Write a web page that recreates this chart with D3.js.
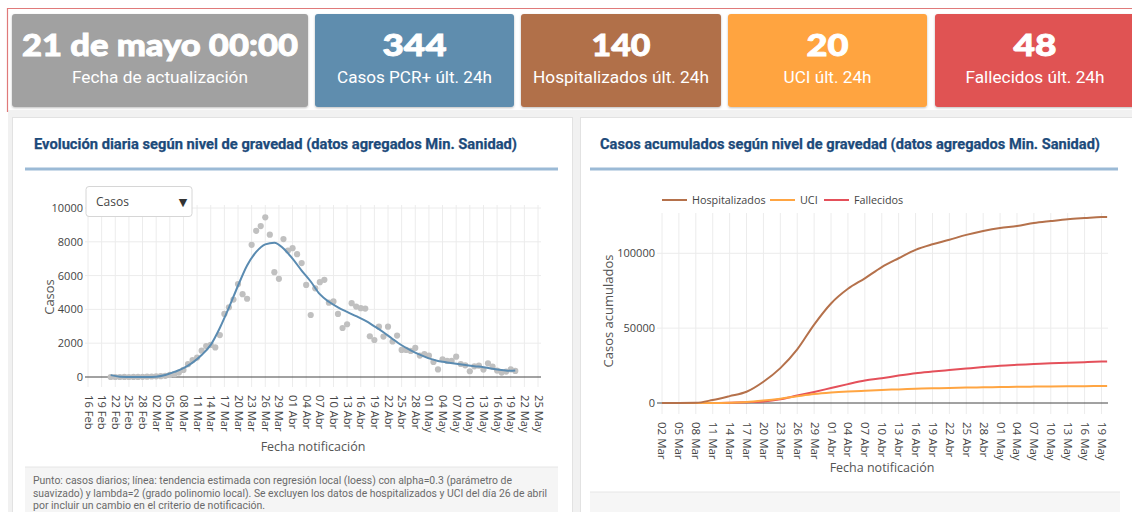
<!DOCTYPE html>
<html><head><meta charset="utf-8">
<script src="https://cdn.jsdelivr.net/npm/d3@7"></script>
<style>
html,body{margin:0;padding:0;background:#fff;overflow:hidden;}
svg{display:block;}
</style></head>
<body>
<svg id="c" width="1132" height="512"></svg>
<script>
// ---------- DATA ----------
const cardValues = ["21 de mayo 00:00", "344", "140", "20", "48"];
const cardLabels = ["Fecha de actualización", "Casos PCR+ últ. 24h", "Hospitalizados últ. 24h", "UCI últ. 24h", "Fallecidos últ. 24h"];
const cardColors = ["#a1a1a1", "#5f8dae", "#b16f49", "#ffa440", "#e05252"];

const leftTitle = "Evolución diaria según nivel de gravedad (datos agregados Min. Sanidad)";
const rightTitle = "Casos acumulados según nivel de gravedad (datos agregados Min. Sanidad)";

// daily cases, consecutive days starting 21 Feb
const dailyStart = "21 Feb";
const dailyCases = [
  0, 0, 0, 2, 0, 5, 3, 10, 20, 30,
  40, 50, 70, 120, 170, 260, 420, 760, 1000, 1150,
  1560, 1830, 1900, 1750, 2480, 3730, 4120, 4580, 5500, 4900,
  4630, 7820, 8650, 8930, 9450, 8420, 6200, 5810, 8160, 7480,
  7620, 7270, 6740, 5450, 3670, 5250, 5610, 5750, 4400, 4470,
  3730, 2900, 3120, 4370, 4170, 4070, 4050, 2410, 2190, 2980,
  2390, 2980, 2100, 2450, 1600, 1600, 1540, 1720, 1270, 1360,
  1260, 890, 450, 1050, 950, 950, 1200, 770, 690, 340,
  630, 670, 440, 810, 610, 380, 260, 320, 450, 360
];
// loess trend
const trendDates = ["21 Feb","23 Feb","26 Feb","29 Feb","02 Mar","04 Mar","06 Mar","08 Mar","10 Mar","12 Mar","14 Mar","16 Mar","18 Mar","20 Mar","22 Mar","24 Mar","26 Mar","28 Mar","30 Mar","01 Abr","03 Abr","05 Abr","07 Abr","09 Abr","11 Abr","13 Abr","15 Abr","17 Abr","19 Abr","21 Abr","23 Abr","25 Abr","27 Abr","29 Abr","01 May","03 May","05 May","07 May","09 May","11 May","13 May","15 May","17 May","19 May","20 May"];
const trendValues = [110, 20, 0, 0, 20, 120, 300, 520, 850, 1300, 1900, 2900, 4100, 5400, 6600, 7400, 7850, 7950, 7600, 7000, 6300, 5650, 4900, 4450, 4120, 3850, 3600, 3330, 3000, 2650, 2250, 1880, 1580, 1320, 1100, 950, 860, 780, 710, 640, 580, 490, 420, 370, 380];

const leftTickLabels = ["16 Feb","19 Feb","22 Feb","25 Feb","28 Feb","02 Mar","05 Mar","08 Mar","11 Mar","14 Mar","17 Mar","20 Mar","23 Mar","26 Mar","29 Mar","01 Abr","04 Abr","07 Abr","10 Abr","13 Abr","16 Abr","19 Abr","22 Abr","25 Abr","28 Abr","01 May","04 May","07 May","10 May","13 May","16 May","19 May","22 May","25 May"];
const leftYTicks = [0, 2000, 4000, 6000, 8000, 10000];

// cumulative series
const cumDates = ["02 Mar","05 Mar","08 Mar","11 Mar","14 Mar","17 Mar","20 Mar","23 Mar","26 Mar","29 Mar","01 Abr","04 Abr","07 Abr","10 Abr","13 Abr","16 Abr","19 Abr","22 Abr","25 Abr","28 Abr","01 May","04 May","07 May","10 May","13 May","16 May","19 May","20 May"];
const hospitalizados = [0, 0, 100, 2000, 4600, 7500, 14200, 23300, 35800, 52400, 66500, 76300, 83300, 90800, 96700, 102300, 106000, 109000, 112300, 114900, 116900, 118200, 120200, 121500, 122700, 123500, 124200, 124200];
const uci = [0, 0, 0, 30, 200, 600, 1600, 2900, 4500, 6000, 7000, 7700, 8200, 8700, 9100, 9500, 9800, 10100, 10300, 10500, 10650, 10800, 10950, 11050, 11150, 11250, 11300, 11300];
const fallecidos = [0, 0, 0, 30, 150, 500, 1000, 2500, 5000, 7400, 10000, 12600, 15000, 16600, 18300, 19900, 21000, 22000, 23000, 24000, 24900, 25500, 26000, 26500, 26900, 27300, 27700, 27800];
const seriesNames = ["Hospitalizados", "UCI", "Fallecidos"];
const seriesColors = ["#b5714b", "#ffa542", "#e4505a"];
const rightTickLabels = ["02 Mar","05 Mar","08 Mar","11 Mar","14 Mar","17 Mar","20 Mar","23 Mar","26 Mar","29 Mar","01 Abr","04 Abr","07 Abr","10 Abr","13 Abr","16 Abr","19 Abr","22 Abr","25 Abr","28 Abr","01 May","04 May","07 May","10 May","13 May","16 May","19 May"];
const rightYTicks = [0, 50000, 100000];

const footnote = [
  "Punto: casos diarios; línea: tendencia estimada con regresión local (loess) con alpha=0.3 (parámetro de",
  "suavizado) y lambda=2 (grado polinomio local). Se excluyen los datos de hospitalizados y UCI del día 26 de abril",
  "por incluir un cambio en el criterio de notificación."
];

// ---------- HELPERS ----------
const MONTHS = {Feb: 1, Mar: 2, Abr: 3, May: 4};
const parseEs = s => { const [d, m] = s.split(" "); return new Date(Date.UTC(2020, MONTHS[m], +d)); };
const DAY = 86400000;

const svg = d3.select("#c");
const FONT = "'Open Sans', 'DejaVu Sans', sans-serif";
const defs = svg.append("defs");
const sh = defs.append("filter").attr("id", "sh").attr("x", "-5%").attr("y", "-5%").attr("width", "110%").attr("height", "120%");
sh.append("feDropShadow").attr("dx", 0).attr("dy", 1).attr("stdDeviation", 1.2).attr("flood-color", "#000").attr("flood-opacity", 0.25);

// background
svg.append("rect").attr("x", 0).attr("y", 0).attr("width", 1132).attr("height", 512).attr("fill", "#fff");
svg.append("rect").attr("x", 8).attr("y", 110).attr("width", 1124).attr("height", 402).attr("fill", "#f1f1f1");
// red frame
svg.append("path").attr("d", "M7.5,112 V8.5 H1132").attr("fill", "none").attr("stroke", "#e07a7a").attr("stroke-width", 1.2);

// ---------- CARDS ----------
const cardBoxes = [[12, 296], [315, 199], [521, 200], [728, 199], [935, 200]];
const bigWidths = [276, 64, 59, 42, 43];
const labelWidths = [176, 155, 176, 88, 139];
cardValues.forEach((v, i) => {
  const [x, w] = cardBoxes[i];
  const g = svg.append("g");
  g.append("rect").attr("x", x).attr("y", 14).attr("width", w).attr("height", 93).attr("rx", 3)
    .attr("fill", cardColors[i]).attr("filter", "url(#sh)");
  g.append("text").attr("x", x + w / 2).attr("y", 56).attr("text-anchor", "middle")
    .attr("font-family", "Lato, 'Open Sans', sans-serif").attr("font-weight", 900).attr("font-size", 31)
    .attr("fill", "#fff").attr("stroke", "#fff").attr("stroke-width", 0.9)
    .attr("textLength", bigWidths[i]).attr("lengthAdjust", "spacingAndGlyphs").text(v);
  g.append("text").attr("x", x + w / 2).attr("y", 83).attr("text-anchor", "middle")
    .attr("font-family", "Roboto, sans-serif").attr("font-size", 16.5).attr("fill", "#fff")
    .attr("textLength", labelWidths[i]).attr("lengthAdjust", "spacingAndGlyphs").text(cardLabels[i]);
});

// ---------- PANELS ----------
svg.append("rect").attr("x", 12.5).attr("y", 117.5).attr("width", 560).attr("height", 400).attr("fill", "#fff").attr("stroke", "#e2e2e2");
svg.append("rect").attr("x", 580.5).attr("y", 117.5).attr("width", 560).attr("height", 400).attr("fill", "#fff").attr("stroke", "#e2e2e2");

function title(txt, x, len, r0, r1) {
  svg.append("text").attr("x", x).attr("y", 149).attr("font-family", "Roboto, sans-serif").attr("font-weight", 700)
    .attr("font-size", 14).attr("fill", "#1c4a7a").attr("stroke", "#1c4a7a").attr("stroke-width", 0.25)
    .attr("textLength", len).attr("lengthAdjust", "spacingAndGlyphs").text(txt);
  svg.append("line").attr("x1", r0).attr("x2", r1).attr("y1", 169).attr("y2", 169).attr("stroke", "#9bbad6").attr("stroke-width", 3);
}
title(leftTitle, 34, 483, 25, 558);
title(rightTitle, 600, 500, 590, 1118);

// ---------- LEFT CHART ----------
const L = {x0: 85, x1: 541, y0: 205, y1: 387};
const xL = d3.scaleUtc().domain([parseEs("16 Feb"), parseEs("25 May")]).range([88, 538]);
const yL = d3.scaleLinear().domain([0, 10000]).range([377, 208]);
const lTicks = leftTickLabels.map(parseEs);
const gl = svg.append("g");
gl.selectAll(".vg").data(lTicks).join("line").attr("x1", d => xL(d)).attr("x2", d => xL(d))
  .attr("y1", L.y0).attr("y2", L.y1).attr("stroke", "#ececec");
gl.selectAll(".hg").data(leftYTicks.filter(d => d > 0)).join("line").attr("x1", L.x0).attr("x2", L.x1)
  .attr("y1", d => yL(d)).attr("y2", d => yL(d)).attr("stroke", "#ececec");
gl.append("line").attr("x1", L.x0).attr("x2", L.x1).attr("y1", yL(0)).attr("y2", yL(0)).attr("stroke", "#444").attr("stroke-width", 1);

const yAxL = svg.append("g").attr("transform", `translate(${L.x0 - 2},0)`)
  .call(d3.axisLeft(yL).tickValues(leftYTicks).tickSize(0).tickPadding(0).tickFormat(d3.format("d")));
yAxL.select(".domain").remove();
yAxL.selectAll("text").attr("font-family", FONT).attr("font-size", 11).attr("fill", "#444");

const xAxL = svg.append("g").attr("transform", `translate(0,${L.y1 + 8})`)
  .call(d3.axisBottom(xL).tickValues(lTicks).tickSize(0).tickFormat((d, i) => leftTickLabels[i]));
xAxL.select(".domain").remove();
xAxL.selectAll("text").attr("x", 0).attr("y", 0).attr("dy", "0.35em").attr("transform", "rotate(90)")
  .style("text-anchor", "start").attr("font-family", FONT).attr("font-size", 11.2).attr("fill", "#444");

svg.append("text").attr("transform", "translate(54,297) rotate(-90)").attr("text-anchor", "middle")
  .attr("font-family", FONT).attr("font-size", 13).attr("fill", "#555").text("Casos");
svg.append("text").attr("x", 313).attr("y", 451).attr("text-anchor", "middle")
  .attr("font-family", FONT).attr("font-size", 12.5).attr("fill", "#555").text("Fecha notificación");

const d0 = parseEs(dailyStart).getTime();
const pts = dailyCases.map((v, i) => ({d: new Date(d0 + i * DAY), v}));
gl.selectAll(".pt").data(pts).join("circle").attr("cx", d => xL(d.d)).attr("cy", d => yL(d.v)).attr("r", 3.1)
  .attr("fill", "#c0c0c0");
const trend = trendDates.map((s, i) => ({d: parseEs(s), v: trendValues[i]}));
gl.append("path").datum(trend).attr("fill", "none").attr("stroke", "#5a8bb1").attr("stroke-width", 2)
  .attr("d", d3.line().x(d => xL(d.d)).y(d => yL(d.v)).curve(d3.curveMonotoneX));

// dropdown
svg.append("rect").attr("x", 86).attr("y", 186.5).attr("width", 106).attr("height", 30).attr("rx", 3)
  .attr("fill", "#fff").attr("stroke", "#d6d6d6");
svg.append("text").attr("x", 96).attr("y", 206).attr("font-family", FONT).attr("font-size", 12).attr("fill", "#444").text("Casos");
svg.append("text").attr("x", 183).attr("y", 206).attr("text-anchor", "middle").attr("font-family", "'DejaVu Sans', sans-serif")
  .attr("font-size", 11).attr("fill", "#333").text("▼");

// footnote
svg.append("rect").attr("x", 25).attr("y", 467).attr("width", 533).attr("height", 50).attr("fill", "#f5f5f5");
svg.append("line").attr("x1", 25).attr("x2", 558).attr("y1", 467).attr("y2", 467).attr("stroke", "#e6e6e6");
const fnLen = [479, 514, 232];
footnote.forEach((t, i) => {
  svg.append("text").attr("x", 33).attr("y", 484 + i * 12.5).attr("font-family", "Roboto, sans-serif")
    .attr("font-size", 10.8).attr("fill", "#6a6a6a").attr("textLength", fnLen[i]).attr("lengthAdjust", "spacingAndGlyphs").text(t);
});

// ---------- RIGHT CHART ----------
const R = {x0: 657, x1: 1108, y0: 213, y1: 414};
const xR = d3.scaleUtc().domain([parseEs("02 Mar"), parseEs("19 May")]).range([662, 1101.5]);
const yR = d3.scaleLinear().domain([0, 100000]).range([403, 253.3]);
const rTicks = rightTickLabels.map(parseEs);
const gr = svg.append("g");
gr.selectAll(".vg").data(rTicks).join("line").attr("x1", d => xR(d)).attr("x2", d => xR(d))
  .attr("y1", R.y0).attr("y2", R.y1).attr("stroke", "#ececec");
gr.selectAll(".hg").data(rightYTicks.filter(d => d > 0)).join("line").attr("x1", R.x0).attr("x2", R.x1)
  .attr("y1", d => yR(d)).attr("y2", d => yR(d)).attr("stroke", "#ececec");
gr.append("line").attr("x1", R.x0).attr("x2", R.x1).attr("y1", yR(0)).attr("y2", yR(0)).attr("stroke", "#444");

const yAxR = svg.append("g").attr("transform", `translate(${R.x0 - 2},0)`)
  .call(d3.axisLeft(yR).tickValues(rightYTicks).tickSize(0).tickPadding(0).tickFormat(d3.format("d")));
yAxR.select(".domain").remove();
yAxR.selectAll("text").attr("font-family", FONT).attr("font-size", 11).attr("fill", "#444");

const xAxR = svg.append("g").attr("transform", `translate(0,${R.y1 + 8})`)
  .call(d3.axisBottom(xR).tickValues(rTicks).tickSize(0).tickFormat((d, i) => rightTickLabels[i]));
xAxR.select(".domain").remove();
xAxR.selectAll("text").attr("x", 0).attr("y", 0).attr("dy", "0.35em").attr("transform", "rotate(90)")
  .style("text-anchor", "start").attr("font-family", FONT).attr("font-size", 11.5).attr("fill", "#444");

svg.append("text").attr("transform", "translate(613,311) rotate(-90)").attr("text-anchor", "middle")
  .attr("font-family", FONT).attr("font-size", 13).attr("fill", "#555").text("Casos acumulados");
svg.append("text").attr("x", 882).attr("y", 472).attr("text-anchor", "middle")
  .attr("font-family", FONT).attr("font-size", 12.5).attr("fill", "#555").text("Fecha notificación");

const cd = cumDates.map(parseEs);
const series = [hospitalizados, uci, fallecidos];
const lineR = d3.line().x(d => xR(d.d)).y(d => yR(d.v)).curve(d3.curveMonotoneX);
[2, 1, 0].forEach(k => {
  gr.append("path").datum(series[k].map((v, i) => ({d: cd[i], v}))).attr("fill", "none")
    .attr("stroke", seriesColors[k]).attr("stroke-width", 2).attr("d", lineR);
});

// legend
const legX = [662, 770, 824];
seriesNames.forEach((n, k) => {
  svg.append("line").attr("x1", legX[k]).attr("x2", legX[k] + 25).attr("y1", 200).attr("y2", 200)
    .attr("stroke", seriesColors[k]).attr("stroke-width", 2);
  svg.append("text").attr("x", legX[k] + 30).attr("y", 204).attr("font-family", FONT).attr("font-size", 10.8)
    .attr("fill", "#444").text(n);
});

// bottom box right
svg.append("rect").attr("x", 590).attr("y", 492).attr("width", 530).attr("height", 25).attr("fill", "#f6f6f6");
svg.append("line").attr("x1", 590).attr("x2", 1120).attr("y1", 492).attr("y2", 492).attr("stroke", "#e6e6e6");
</script>
</body></html>
